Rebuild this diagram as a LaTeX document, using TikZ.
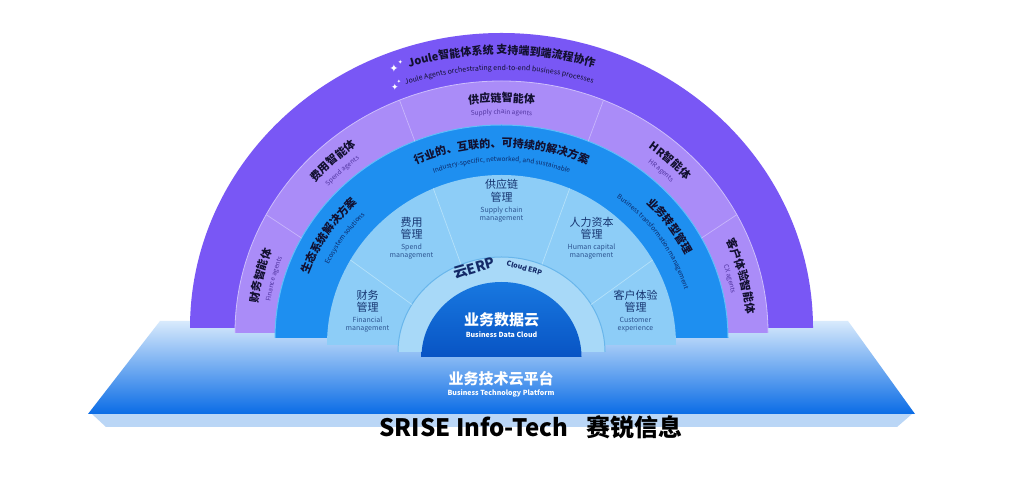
\documentclass[tikz,border=0pt]{standalone}
\usepackage{fontspec}
\setmainfont{Noto Sans CJK SC}
\newfontfamily\symfont{DejaVu Sans}
\usepackage{tikz}
\usetikzlibrary{positioning}
\usetikzlibrary{calc}
\usetikzlibrary{decorations.text}

\definecolor{ringdark}{RGB}{121,87,245}
\definecolor{ringlight}{RGB}{170,140,248}
\definecolor{ringblue}{RGB}{30,143,240}
\definecolor{ringsky}{RGB}{141,205,247}
\definecolor{ringerp}{RGB}{168,217,248}
\definecolor{erpline}{RGB}{105,182,235}
\definecolor{blueedge}{RGB}{95,190,250}
\definecolor{lightedge}{RGB}{205,190,252}
\definecolor{agentline}{RGB}{200,182,252}
\definecolor{skyline}{RGB}{180,225,250}
\definecolor{cloudtop}{RGB}{24,120,224}
\definecolor{cloudbot}{RGB}{8,84,196}
\definecolor{inkd}{RGB}{18,16,48}
\definecolor{agenten}{RGB}{80,52,160}
\definecolor{blueen}{RGB}{12,42,105}
\definecolor{skycn}{RGB}{22,52,112}
\definecolor{skyen}{RGB}{45,85,145}
\definecolor{erpink}{RGB}{20,42,104}
\definecolor{plattop}{RGB}{216,234,252}
\definecolor{platmid}{RGB}{112,178,244}
\definecolor{platbot}{RGB}{10,108,230}
\definecolor{slab}{RGB}{186,214,246}

\newcommand\fJoule{\color{inkd}\bfseries\fontsize{11}{13}\selectfont}
\newcommand\fJouleEn{\color{inkd}\fontsize{7}{8}\selectfont}
\newcommand\fRingCn{\color{inkd}\bfseries\fontsize{11}{13}\selectfont}
\newcommand\fAgentEn{\color{agenten}\fontsize{6.5}{8}\selectfont}
\newcommand\fBlueEn{\color{blueen}\fontsize{6.5}{8}\selectfont}

\begin{document}
\begin{tikzpicture}[x=1pt, y=1pt,
	divider/.style={draw=#1, line width=0.7pt},
	arctext/.style={decorate, decoration={text along path, text align=center, text={#1}}},
	skycn/.style={font=\fontsize{11}{12.5}\selectfont, text=skycn, align=center, inner sep=0pt},
	skyen/.style={font=\fontsize{7}{8}\selectfont, text=skyen, align=center, inner sep=0pt},
	whitetext/.style={text=white, inner sep=0pt},
	spark/.style={text=white, inner sep=0pt}
	]
	\useasboundingbox (0,0) rectangle (1024,478);
	\fill[white] (0,0) rectangle (1024,478);
	
	% Centres
	\coordinate (c1) at (501.5,150);
	\coordinate (c2) at (501.5,145);
	\coordinate (c3) at (501.5,140);
	\coordinate (c4) at (501.5,133);
	\coordinate (c5) at (501.5,126);
	\coordinate (c6) at (501.5,121);
	
	% Platform
	\fill[slab] (92,64) -- (912,64) -- (897,51) -- (106,51) -- cycle;
	\shade[top color=plattop, middle color=platmid, bottom color=platbot] (160,157) -- (848,157) -- (915,64) -- (88,64) -- cycle;
	
	% Rings
	\fill[ringdark] ($(c1)+(-311.5,0)$) arc[start angle=180, end angle=0, x radius=311.5pt, y radius=295pt] -- cycle;
	\fill[ringlight] ($(c2)+(-266.5,0)$) arc[start angle=180, end angle=0, x radius=266.5pt, y radius=252pt] -- cycle;
	\draw[lightedge, line width=0.8pt] ($(c2)+(-266.5,0)$) arc[start angle=180, end angle=0, x radius=266.5pt, y radius=252pt];
	\fill[ringblue] ($(c3)+(-226.5,0)$) arc[start angle=180, end angle=0, x radius=226.5pt, y radius=213pt] -- cycle;
	\draw[blueedge, line width=1pt] ($(c3)+(-226.5,0)$) arc[start angle=180, end angle=0, x radius=226.5pt, y radius=213pt];
	\fill[ringsky] ($(c4)+(-174.5,0)$) arc[start angle=180, end angle=0, x radius=174.5pt, y radius=170pt] -- cycle;
	\fill[ringerp] ($(c5)+(-103.5,0)$) arc[start angle=180, end angle=0, x radius=103.5pt, y radius=95pt] -- cycle;
	\draw[erpline, line width=1pt] ($(c5)+(-103.5,0)$) arc[start angle=180, end angle=0, x radius=103.5pt, y radius=95pt];
	\shade[top color=cloudtop, bottom color=cloudbot] ($(c6)+(-80,0)$) arc[start angle=180, end angle=0, x radius=80pt, y radius=75pt] -- cycle;
	
	% Dividers
	\foreach \a in {152,112.5,67.5,28}
		\draw[divider=agentline] ($(c3)+(\a:226.5pt and 213pt)$) -- ($(c2)+(\a:266.5pt and 252pt)$);
	\foreach \a in {150,113,67,30}
		\draw[divider=skyline] ($(c5)+(\a:103.5pt and 95pt)$) -- ($(c4)+(\a:174.5pt and 170pt)$);
	
	% Joule agents
	\node[spark, font=\symfont\fontsize{11}{11}\selectfont] (spk1) at (394,410) {✦};
	\node[spark, font=\symfont\fontsize{6}{6}\selectfont] (spk1b) at (400.5,416) {✦};
	\node[spark, font=\symfont\fontsize{9}{9}\selectfont] (spk2) at (395,391) {✦};
	\node[spark, font=\symfont\fontsize{5}{5}\selectfont] (spk2b) at (399,396) {✦};
	\path[arctext={|\fJoule|Joule智能体系统 支持端到端流程协作}] ($(c1)+(130:300pt and 274pt)$) arc[start angle=130, end angle=50, x radius=300pt, y radius=274pt];
	\path[arctext={|\fJouleEn|Joule Agents orchestrating end-to-end business processes}] ($(c1)+(130.5:285pt and 258pt)$) arc[start angle=130.5, end angle=50.5, x radius=285pt, y radius=258pt];
	
	% Agents
	\path[arctext={|\fRingCn|财务智能体}] ($(c2)+(191:245.5pt and 231pt)$) arc[start angle=191, end angle=141, x radius=245.5pt, y radius=231pt];
	\path[arctext={|\fRingCn|费用智能体}] ($(c2)+(158:245.5pt and 231pt)$) arc[start angle=158, end angle=108, x radius=245.5pt, y radius=231pt];
	\path[arctext={|\fRingCn|供应链智能体}] ($(c2)+(115:245.5pt and 231pt)$) arc[start angle=115, end angle=65, x radius=245.5pt, y radius=231pt];
	\path[arctext={|\fRingCn|HR智能体}] ($(c2)+(72:245.5pt and 231pt)$) arc[start angle=72, end angle=22, x radius=245.5pt, y radius=231pt];
	\path[arctext={|\fRingCn|客户体验智能体}] ($(c2)+(39:245.5pt and 231pt)$) arc[start angle=39, end angle=-11, x radius=245.5pt, y radius=231pt];
	\path[arctext={|\fAgentEn|Finance agents}] ($(c2)+(191:233.5pt and 219pt)$) arc[start angle=191, end angle=141, x radius=233.5pt, y radius=219pt];
	\path[arctext={|\fAgentEn|Spend agents}] ($(c2)+(158:233.5pt and 219pt)$) arc[start angle=158, end angle=108, x radius=233.5pt, y radius=219pt];
	\path[arctext={|\fAgentEn|Supply chain agents}] ($(c2)+(115:233.5pt and 219pt)$) arc[start angle=115, end angle=65, x radius=233.5pt, y radius=219pt];
	\path[arctext={|\fAgentEn|HR agents}] ($(c2)+(72:233.5pt and 219pt)$) arc[start angle=72, end angle=22, x radius=233.5pt, y radius=219pt];
	\path[arctext={|\fAgentEn|CX agents}] ($(c2)+(39:233.5pt and 219pt)$) arc[start angle=39, end angle=-11, x radius=233.5pt, y radius=219pt];
	
	% Solutions
	\path[arctext={|\fRingCn|生态系统解决方案}] ($(c3)+(173:204.5pt and 191pt)$) arc[start angle=173, end angle=123, x radius=204.5pt, y radius=191pt];
	\path[arctext={|\fRingCn|行业的、互联的、可持续的解决方案}] ($(c3)+(125:204.5pt and 191pt)$) arc[start angle=125, end angle=55, x radius=204.5pt, y radius=191pt];
	\path[arctext={|\fRingCn|业务转型管理}] ($(c3)+(60:204.5pt and 191pt)$) arc[start angle=60, end angle=10, x radius=204.5pt, y radius=191pt];
	\path[arctext={|\fBlueEn|Ecosystem solutions}] ($(c3)+(171:190pt and 176.5pt)$) arc[start angle=171, end angle=121, x radius=190pt, y radius=176.5pt];
	\path[arctext={|\fBlueEn|Industry-specific, networked, and sustainable}] ($(c3)+(125:190pt and 176.5pt)$) arc[start angle=125, end angle=55, x radius=190pt, y radius=176.5pt];
	\path[arctext={|\fBlueEn|Business transformation management}] ($(c3)+(64:190pt and 176.5pt)$) arc[start angle=64, end angle=4, x radius=190pt, y radius=176.5pt];
	
	% Management
	\node[skycn] (fin) at (367.5,176.5) {财务\\管理};
	\node[skyen, below=4pt of fin] (finen) {Financial\\management};
	\node[skycn] (spend) at (411.5,249.5) {费用\\管理};
	\node[skyen, below=4pt of spend] (spenden) {Spend\\management};
	\node[skycn] (scm) at (501.5,287) {供应链\\管理};
	\node[skyen, below=4pt of scm] (scmen) {Supply chain\\management};
	\node[skycn] (hcm) at (591.5,249.5) {人力资本\\管理};
	\node[skyen, below=4pt of hcm] (hcmen) {Human capital\\management};
	\node[skycn] (cx) at (635.5,176.5) {客户体验\\管理};
	\node[skyen, below=4pt of cx] (cxen) {Customer\\experience};
	
	% Cloud ERP
	\node[font=\bfseries\fontsize{14}{14}\selectfont, text=erpink, rotate=16, inner sep=0pt] (erp) at (474.5,209.5) {云ERP};
	\node[font=\bfseries\fontsize{7}{8}\selectfont, text=erpink, rotate=-15, inner sep=0pt] (erpen) at (524.5,210) {Cloud ERP};
	
	% Data cloud and platform
	\node[whitetext, font=\bfseries\fontsize{15}{16}\selectfont] (bdc) at (501.5,158.5) {业务数据云};
	\node[whitetext, font=\bfseries\fontsize{7}{8}\selectfont, below=5pt of bdc] (bdcen) {Business Data Cloud};
	\node[whitetext, font=\bfseries\fontsize{15}{16}\selectfont] (btp) at (501,99.5) {业务技术云平台};
	\node[whitetext, font=\bfseries\fontsize{7}{8}\selectfont, below=3pt of btp] (btpen) {Business Technology Platform};
	
	% Brand
	\node[font=\bfseries\fontsize{24}{26}\selectfont, inner sep=0pt] (brand) at (531,51) {SRISE Info-Tech\hspace{0.75em}赛锐信息};
\end{tikzpicture}
\end{document}
